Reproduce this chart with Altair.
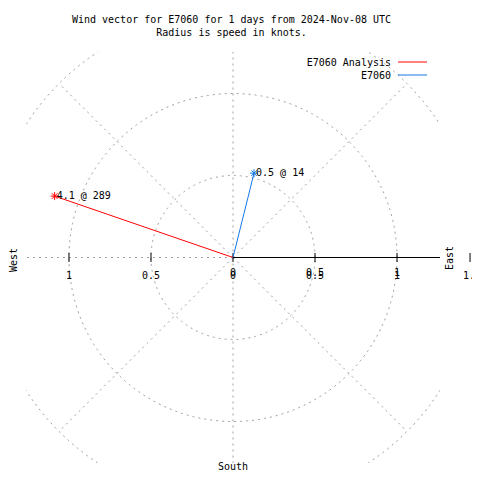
import altair as alt
import numpy as np
import pandas as pd

# ---- data ----
series = ["E7060 Analysis", "E7060"]
directions = [289, 14]          # compass degrees
radii = [1.15, 0.53]            # plotted radius
vec_labels = ["4.1 @ 289", "0.5 @ 14"]
colors = ["#ff0000", "#1478e6"]

ring_radii = [0.5, 1.0, 1.5]
spoke_angles = [45, 90, 135, 180, 225, 270, 315]
tick_values = [-1.0, -0.5, 0.0, 0.5, 1.0]
tick_texts = ["1", "0.5", "0", "0.5", "1"]
extra_tick_values = [0.0, 0.5, 1.0]
extra_tick_texts = ["0", "0.5", "1"]
edge_tick_value = [1.5]
edge_tick_text = ["1.5"]
title_lines = ["Wind vector for E7060 for 1 days from 2024-Nov-08 UTC",
               "Radius is speed in knots."]

FONT = "DejaVu Sans Mono"
FS = 10
GRID = "#a0a0a0"

xs = alt.Scale(domain=[-1.262, 1.262], nice=False, zero=False)
ys = alt.Scale(domain=[-1.253, 1.253], nice=False, zero=False)


def X(f):
    return alt.X(f, type="quantitative", scale=xs, axis=None)


def Y(f):
    return alt.Y(f, type="quantitative", scale=ys, axis=None)


# rings
rows = []
for r in ring_radii:
    for i, t in enumerate(np.linspace(0, 2 * np.pi, 361)):
        rows.append({"ring": r, "i": i, "x": r * np.cos(t), "y": r * np.sin(t)})
ring_df = pd.DataFrame(rows)
rings = alt.Chart(ring_df).mark_line(
    clip=True, color=GRID, strokeDash=[2, 4], strokeWidth=1
).encode(x=X("x"), y=Y("y"), detail="ring:N", order="i:Q")

# spokes
Rmax = max(ring_radii)
spoke_df = pd.DataFrame({
    "x0": 0.0, "y0": 0.0,
    "x1": [Rmax * np.cos(np.radians(a)) for a in spoke_angles],
    "y1": [Rmax * np.sin(np.radians(a)) for a in spoke_angles],
})
spokes = alt.Chart(spoke_df).mark_rule(
    clip=True, color=GRID, strokeDash=[2, 4], strokeWidth=1
).encode(x=X("x0"), y=Y("y0"), x2="x1", y2="y1")

# east axis line
axis_df = pd.DataFrame({"x0": [0.0], "x1": [Rmax], "y0": [0.0]})
east_axis = alt.Chart(axis_df).mark_rule(clip=True, color="black", strokeWidth=1).encode(
    x=X("x0"), x2="x1", y=Y("y0"))

# ticks + labels
tick_df = pd.DataFrame({"v": tick_values, "lab": tick_texts, "y0": 0.0})
ticks = alt.Chart(tick_df).mark_rule(
    color="black", strokeWidth=1, yOffset=-4.5, y2Offset=4.5
).encode(x=X("v"), y=Y("y0"), y2="y0")
tick_labels = alt.Chart(tick_df).mark_text(
    dy=18.5, font=FONT, fontSize=FS, color="black", baseline="middle"
).encode(x=X("v"), y=Y("y0"), text="lab:N")
extra_df = pd.DataFrame({"v": extra_tick_values, "lab": extra_tick_texts, "y0": 0.0})
extra_labels = alt.Chart(extra_df).mark_text(
    dy=15.5, font=FONT, fontSize=FS, color="black", baseline="middle"
).encode(x=X("v"), y=Y("y0"), text="lab:N")

# outer tick (at the very right edge of the picture, partly cut as in the reference)
edge_df = pd.DataFrame({"v": edge_tick_value, "lab": edge_tick_text, "y0": 0.0})
edge_tick = alt.Chart(edge_df).mark_rule(
    color="black", strokeWidth=1, yOffset=-4.5, y2Offset=4.5, xOffset=-9
).encode(x=X("v"), y=Y("y0"), y2="y0")
edge_label = alt.Chart(edge_df).mark_text(
    dy=18.5, dx=-7, font=FONT, fontSize=FS, color="black", baseline="middle"
).encode(x=X("v"), y=Y("y0"), text="lab:N")

# vectors
vrows = []
end_rows = []
for s, d, r, lab in zip(series, directions, radii, vec_labels):
    ex = r * np.sin(np.radians(d))
    ey = r * np.cos(np.radians(d))
    vrows.append({"series": s, "o": 0, "x": 0.0, "y": 0.0})
    vrows.append({"series": s, "o": 1, "x": ex, "y": ey})
    end_rows.append({"series": s, "x": ex, "y": ey, "lab": lab})
vec_df = pd.DataFrame(vrows)
end_df = pd.DataFrame(end_rows)
cscale = alt.Scale(domain=series, range=colors)

vectors = alt.Chart(vec_df).mark_line(strokeWidth=1).encode(
    x=X("x"), y=Y("y"),
    color=alt.Color("series:N", scale=cscale, legend=None),
    detail="series:N", order="o:Q")

ASTERISK = "M-1,0L1,0M0,-1L0,1M-0.7,-0.7L0.7,0.7M-0.7,0.7L0.7,-0.7"
markers = alt.Chart(end_df).mark_point(
    shape=ASTERISK, size=64, filled=False, strokeWidth=1, opacity=1
).encode(x=X("x"), y=Y("y"), color=alt.Color("series:N", scale=cscale, legend=None))

vlabels = alt.Chart(end_df).mark_text(
    align="left", dx=2, baseline="middle", font=FONT, fontSize=FS, color="black"
).encode(x=X("x"), y=Y("y"), text="lab:N")

# legend (gnuplot style: label then line sample)
legend_layers = []
for k, (s, c) in enumerate(zip(series, colors)):
    one = pd.DataFrame({"t": [s]})
    legend_layers.append(alt.Chart(one).mark_text(
        align="right", baseline="middle", font=FONT, fontSize=FS, color="black"
    ).encode(x=alt.value(365), y=alt.value(11 + 13 * k), text="t:N"))
    legend_layers.append(alt.Chart(one).mark_rule(color=c, strokeWidth=1).encode(
        x=alt.value(372), x2=alt.value(401), y=alt.value(10 + 13 * k)))


# compass labels / title
def txt(s, x, y, angle=0):
    return alt.Chart(pd.DataFrame({"t": [s]})).mark_text(
        font=FONT, fontSize=FS, color="black", baseline="middle", align="center", angle=angle
    ).encode(x=alt.value(x), y=alt.value(y), text="t:N")


west = txt("West", -12, 208, 270)
east = txt("East", 424, 206, 270)
south = txt("South", 207, 415)
title1 = txt(title_lines[0], 205.5, -32)
title2 = txt(title_lines[1], 205.5, -19)

chart = alt.layer(
    rings, spokes, east_axis, ticks, tick_labels, extra_labels, edge_tick, edge_label,
    vectors, markers, vlabels, *legend_layers, west, east, south, title1, title2
).properties(
    width=414, height=411,
    autosize=alt.AutoSizeParams(type="none"),
    padding={"left": 18, "top": 44, "right": 32, "bottom": 9},
    background="white",
).configure_view(stroke=None)

chart.save("out.html", embed_options={"renderer": "svg", "actions": False})
